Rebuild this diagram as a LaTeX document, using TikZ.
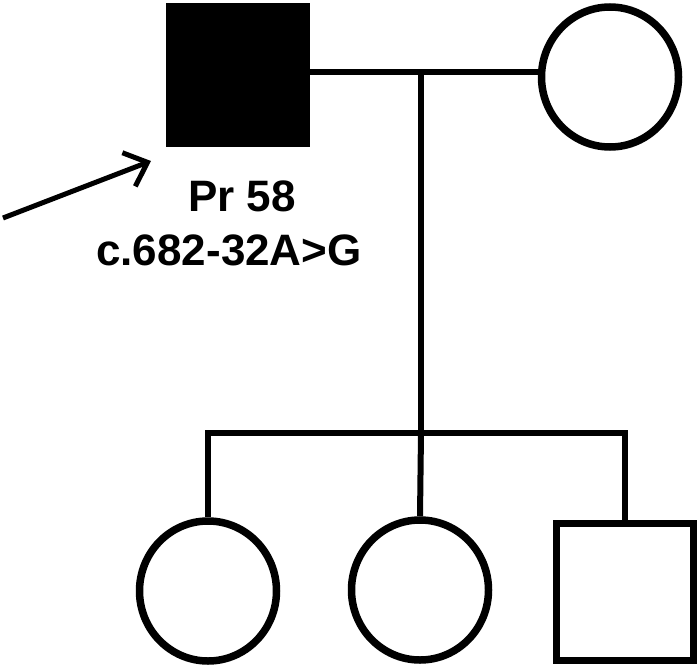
\documentclass[tikz,border=0pt]{standalone}
\usepackage{fontspec}
\setmainfont{Liberation Sans}
\usetikzlibrary{arrows.meta,shapes.geometric}
\begin{document}
\begin{tikzpicture}[x=1pt,y=-1pt,
  male/.style={draw, line width=7.5pt, minimum size=137pt, inner sep=0pt, rectangle},
  female/.style={draw, line width=7.5pt, minimum width=137pt, minimum height=140pt, inner sep=0pt, ellipse},
  affected/.style={fill=black},
  link/.style={line width=6pt},
  lbl/.style={font=\fontsize{44}{50}\selectfont\bfseries, inner sep=0pt}]
\useasboundingbox (0,0) rectangle (698,669);
\node[male, affected, line width=3pt, minimum size=141pt] (father) at (238,75) {};
\node[female] (mother) at (610,77) {};
\node[female] (c1) at (208,591) {};
\node[female] (c2) at (420,590) {};
\node[male] (c3) at (625,592) {};
\coordinate (mid) at (421,72);
\coordinate (sib) at (421,433);
\coordinate (s1) at (208,433);
\coordinate (s3) at (625,433);
\draw[link] (father.east |- mid) -- (mother.west |- mid);
\draw[link] (mid) -- (sib);
\draw[link, line cap=rect] (s1) -- (s3);
\draw[link] (s1) -- (c1.north);
\draw[link] (sib) -- (c2.north);
\draw[link] (s3) -- (c3.north);
\node[lbl] (name) at (242,196) {Pr 58};
\node[lbl] (var) at (229,250) {c.682-32A>G};
\coordinate (tail) at (3,218);
\draw[line width=5pt, -{Straight Barb[length=20pt, width=36pt, line width=5pt]}] (tail) -- (151,161);
\end{tikzpicture}
\end{document}
